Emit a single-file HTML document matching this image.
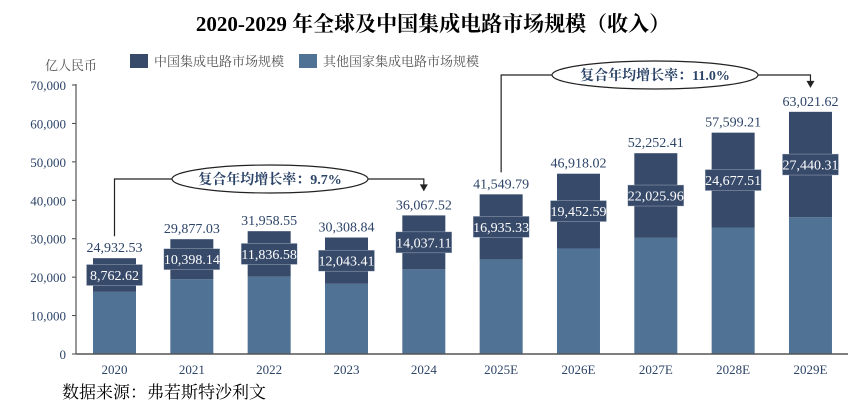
<!DOCTYPE html>
<html><head><meta charset="utf-8"><style>
body{margin:0;background:#fff;width:867px;height:411px;overflow:hidden}
svg text{font-family:"Liberation Serif","Noto Serif CJK SC",serif}
</style></head><body>
<svg id="c" width="867" height="411"></svg>
<script>
const categories=["2020","2021","2022","2023","2024","2025E","2026E","2027E","2028E","2029E"];
const totals=[24932.53,29877.03,31958.55,30308.84,36067.52,41549.79,46918.02,52252.41,57599.21,63021.62];
const china=[8762.62,10398.14,11836.58,12043.41,14037.11,16935.33,19452.59,22025.96,24677.51,27440.31];
const yTicks=[0,10000,20000,30000,40000,50000,60000,70000];
const svg=document.getElementById('c');const NS='http://www.w3.org/2000/svg';
function el(t,a,txt){const e=document.createElementNS(NS,t);for(const k in a)e.setAttribute(k,a[k]);if(txt!=null)e.textContent=txt;svg.appendChild(e);return e;}
const y0=354,yTop=85,vmax=70000;
const Y=v=>y0-(v/vmax)*(y0-yTop);
const X=i=>114.5+i*77.33;
const fmt=v=>v.toLocaleString('en-US',{minimumFractionDigits:2,maximumFractionDigits:2});
const DARK='#374a6a',LIGHT='#507295',TXT='#2c4468';
let t=el('text',{x:433,y:31,'text-anchor':'middle','font-size':21,'font-weight':'bold',fill:'#000'},'2020-2029 年全球及中国集成电路市场规模（收入）');

t=el('text',{x:45,y:70,'font-size':13,fill:'#555'},'亿人民币');

let r=el('rect',{x:130,y:54,width:18,height:14,fill:DARK});

t=el('text',{x:154,y:66,'font-size':13,fill:'#555'},'中国集成电路市场规模');

r=el('rect',{x:299,y:54,width:18,height:14,fill:LIGHT});

t=el('text',{x:323,y:66,'font-size':13,fill:'#555'},'其他国家集成电路市场规模');

yTicks.forEach(v=>{
 let l=el('line',{x1:72,x2:76,y1:Y(v),y2:Y(v),stroke:'#444'});
 
 let tt=el('text',{x:66,y:Y(v)+5,'text-anchor':'end','font-size':13,fill:TXT},v.toLocaleString('en-US'));
 
});
categories.forEach((c,i)=>{
 const x=X(i),w=43,other=totals[i]-china[i];
 let b=el('rect',{x:x-w/2,y:Y(other),width:w,height:Y(0)-Y(other),fill:LIGHT});
 
 b=el('rect',{x:x-w/2,y:Y(totals[i]),width:w,height:Y(other)-Y(totals[i]),fill:DARK});
 
 const my=(Y(totals[i])+Y(other))/2;
 b=el('rect',{x:x-28,y:my-10.5,width:56,height:21,fill:DARK,stroke:'#b8c2d0','stroke-width':0.4});
 
 let tt=el('text',{x:x,y:my+5,'text-anchor':'middle','font-size':14,fill:'#fff'},fmt(china[i]));
 
 tt=el('text',{x:x,y:Y(totals[i])-6,'text-anchor':'middle','font-size':14,fill:TXT},fmt(totals[i]));
 
 tt=el('text',{x:x,y:374,'text-anchor':'middle','font-size':13,fill:TXT},c);
 
});
let ax=el('line',{x1:76,x2:76,y1:84,y2:354,stroke:'#555','stroke-width':1.2});

ax=el('line',{x1:76,x2:848,y1:354,y2:354,stroke:'#555','stroke-width':1.5});

function cagr(i0,i1,cx,cy,rx,label,name){
 const x0=X(i0),x1=X(i1);
 let p=el('polyline',{points:`${x0},${Y(totals[i0])-22} ${x0},${cy} ${cx-rx},${cy}`,fill:'none',stroke:'#222','stroke-width':1.2});
 
 p=el('polyline',{points:`${cx+rx},${cy} ${x1},${cy} ${x1},${Y(totals[i1])-30}`,fill:'none',stroke:'#222','stroke-width':1.2});
 
 const ay=Y(totals[i1])-24;
 p=el('polygon',{points:`${x1-4},${ay-7} ${x1+4},${ay-7} ${x1},${ay}`,fill:'#222'});
 
 p=el('ellipse',{cx:cx,cy:cy,rx:rx,ry:14,fill:'#fff',stroke:'#222','stroke-width':1.2});
 
 let tt=el('text',{x:cx,y:cy+5,'text-anchor':'middle','font-size':14,'font-weight':'bold',fill:TXT},label);
 
}
cagr(0,4,270,179,98,'复合年均增长率：9.7%','cagr-2020-2024');
cagr(5,9,655,75,103,'复合年均增长率：11.0%','cagr-2025-2029');
t=el('text',{x:62,y:398,'font-size':17,fill:'#000'},'数据来源：弗若斯特沙利文');

</script>
</body></html>
